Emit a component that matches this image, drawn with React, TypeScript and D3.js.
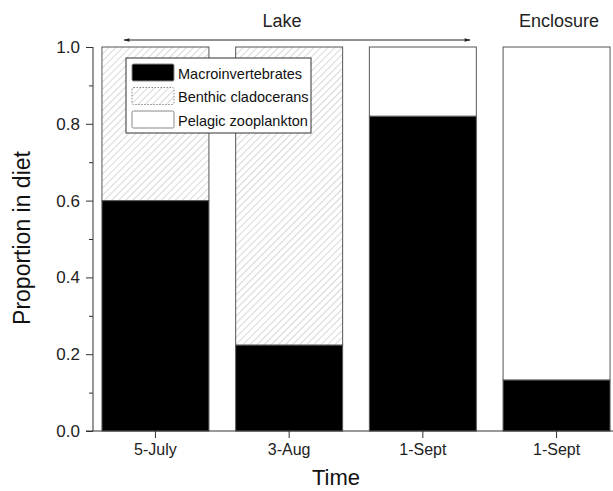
import React, { useEffect, useRef } from "react";
import * as d3 from "d3";

// chart data
const categories = ["5-July", "3-Aug", "1-Sept", "1-Sept"];
const seriesNames = ["Macroinvertebrates", "Benthic cladocerans", "Pelagic zooplankton"];
const macroinvertebrates = [0.6, 0.224, 0.82, 0.133];
const benthicCladocerans = [0.4, 0.776, 0, 0];
const pelagicZooplankton = [0, 0, 0.18, 0.867];
const yTicks = [0, 0.2, 0.4, 0.6, 0.8, 1.0];
const yMinorTicks = [0.1, 0.3, 0.5, 0.7, 0.9];

const FONT = "Arial, 'Liberation Sans', sans-serif";

export default function App() {
  const svgRef = useRef<SVGSVGElement>(null);

  useEffect(() => {
    const w = 613;
    const h = 491;
    const svg = d3.select(svgRef.current)
      .attr("width", w)
      .attr("height", h)
      .style("font-family", FONT);
    svg.selectAll("*").remove();

    const axisX = 93;
    // set up scaling
    const x = d3.scaleBand<number>()
      .domain(categories.map((d, i) => i))
      .range([axisX, 619])
      .paddingInner(0.2)
      .paddingOuter(0.067);
    const y = d3.scaleLinear().domain([0, 1]).range([431, 47]);

    // hatch pattern for benthic cladocerans
    const defs = svg.append("defs");
    const pat = defs.append("pattern")
      .attr("id", "hatch")
      .attr("patternUnits", "userSpaceOnUse")
      .attr("width", 5)
      .attr("height", 5)
      .attr("patternTransform", "rotate(45)");
    pat.append("rect").attr("width", 5).attr("height", 5).attr("fill", "#fff");
    pat.append("line")
      .attr("x1", 0).attr("y1", 0).attr("x2", 0).attr("y2", 5)
      .attr("stroke", "#b0b0b0")
      .attr("stroke-width", 1);

    const fills = ["#000", "url(#hatch)", "#fff"];

    const rows = categories.map((c, i) => ({
      i,
      m: macroinvertebrates[i],
      b: benthicCladocerans[i],
      p: pelagicZooplankton[i],
    }));
    const stack = d3.stack<any>().keys(["m", "b", "p"]);
    const layers = stack(rows);

    layers.forEach((layer, k) => {
      svg.append("g")
        .selectAll("rect")
        .data(layer.filter(d => d[1] - d[0] > 0))
        .join("rect")
        .attr("x", d => x(d.data.i)!)
        .attr("width", x.bandwidth())
        .attr("y", d => y(d[1]))
        .attr("height", d => y(d[0]) - y(d[1]))
        .attr("fill", fills[k])
        .attr("stroke", "#555")
        .attr("stroke-width", 1);
    });

    // axes
    const yAxis = d3.axisLeft(y)
      .tickValues(yTicks)
      .tickSize(7)
      .tickPadding(6)
      .tickFormat(d3.format(".1f"));
    const gy = svg.append("g")
      .attr("transform", `translate(${axisX},0)`)
      .call(yAxis);
    gy.select(".domain").attr("stroke", "#333").attr("d", `M0,${y(0)}V${y(1)}`);
    gy.selectAll(".tick line").attr("stroke", "#333");
    gy.selectAll(".tick text")
      .attr("font-size", 17)
      .attr("font-family", FONT)
      .attr("fill", "#222");

    const gyMinor = svg.append("g")
      .attr("transform", `translate(${axisX},0)`)
      .call(d3.axisLeft(y).tickValues(yMinorTicks).tickSize(4).tickFormat(() => ""));
    gyMinor.select(".domain").remove();
    gyMinor.selectAll(".tick line").attr("stroke", "#333");

    const xAxis = d3.axisBottom(x)
      .tickSize(7)
      .tickPadding(6)
      .tickFormat(i => categories[i]);
    const gx = svg.append("g")
      .attr("transform", `translate(0,${y(0)})`)
      .call(xAxis);
    gx.select(".domain").attr("stroke", "#333").attr("d", `M${axisX - 7},0H${w}`);
    gx.selectAll(".tick line").attr("stroke", "#333");
    gx.selectAll(".tick text")
      .attr("font-size", 16)
      .attr("font-family", FONT)
      .attr("fill", "#222");

    // axis titles
    svg.append("text")
      .attr("x", 336)
      .attr("y", 485)
      .attr("text-anchor", "middle")
      .attr("font-size", 22)
      .attr("fill", "#111")
      .text("Time");
    svg.append("text")
      .attr("transform", "translate(30,238) rotate(-90)")
      .attr("text-anchor", "middle")
      .attr("font-size", 23)
      .attr("fill", "#111")
      .text("Proportion in diet");

    // group labels
    svg.append("text")
      .attr("x", 282).attr("y", 27)
      .attr("text-anchor", "middle")
      .attr("font-size", 18)
      .attr("fill", "#222")
      .text("Lake");
    svg.append("text")
      .attr("x", 559).attr("y", 27)
      .attr("text-anchor", "middle")
      .attr("font-size", 18)
      .attr("fill", "#222")
      .text("Enclosure");

    // double arrow over the lake samples
    const mk = defs.append("marker")
      .attr("id", "arrow")
      .attr("viewBox", "0 0 10 10")
      .attr("refX", 9).attr("refY", 5)
      .attr("markerWidth", 8).attr("markerHeight", 6)
      .attr("orient", "auto-start-reverse")
      .attr("markerUnits", "userSpaceOnUse");
    mk.append("path").attr("d", "M0,2L10,5L0,8Z").attr("fill", "#222");
    svg.append("line")
      .attr("x1", 124).attr("x2", 470)
      .attr("y1", 40).attr("y2", 40)
      .attr("stroke", "#222")
      .attr("stroke-width", 1)
      .attr("marker-start", "url(#arrow)")
      .attr("marker-end", "url(#arrow)");

    // legend
    const lg = svg.append("g").attr("transform", "translate(126,58)");
    lg.append("rect")
      .attr("width", 185).attr("height", 75)
      .attr("fill", "#fff")
      .attr("stroke", "#333")
      .attr("stroke-width", 1);
    seriesNames.forEach((name, k) => {
      const row = lg.append("g").attr("transform", `translate(0,${6 + k * 23.5})`);
      row.append("rect")
        .attr("x", 6).attr("width", 42).attr("height", 17)
        .attr("rx", 1.5)
        .attr("fill", fills[k])
        .attr("stroke", "#888")
        .attr("stroke-width", 1)
        .attr("stroke-dasharray", k === 1 ? "1.5,1.5" : null);
      row.append("text")
        .attr("x", 52).attr("y", 14.5)
        .attr("font-size", 14.5)
        .attr("fill", "#111")
        .text(name);
    });
  }, []);

  return (
    <svg ref={svgRef} style={{ position: "absolute", left: 0, top: 0 }}></svg>
  );
}
